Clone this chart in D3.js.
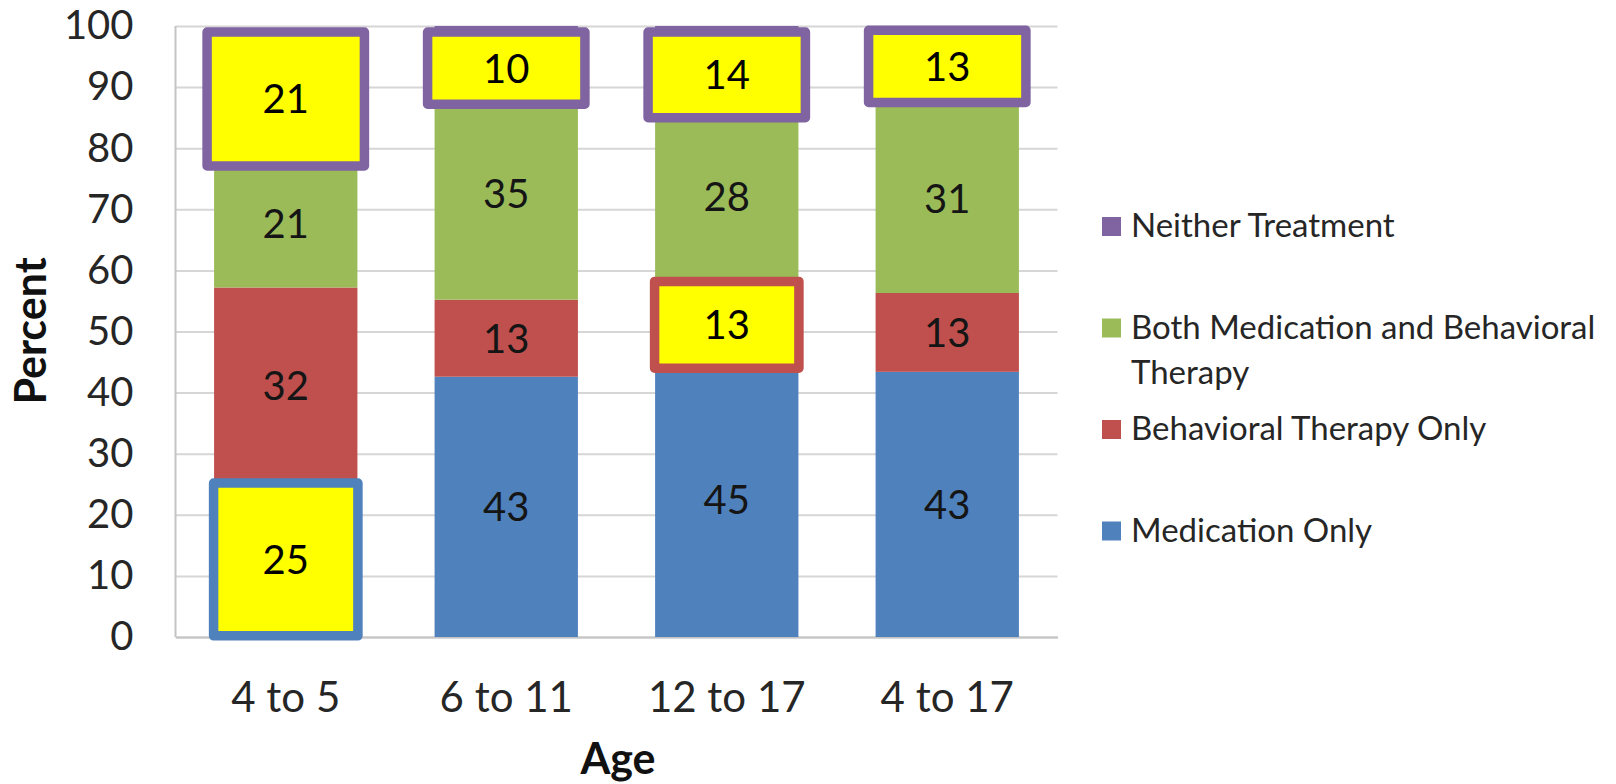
<!DOCTYPE html>
<html>
<head>
<meta charset="utf-8">
<script src="https://cdn.jsdelivr.net/npm/d3@7"></script>
<style>
  body { margin: 0; background: #fff; }
  svg text { font-family: Lato, 'Open Sans', sans-serif; }
</style>
</head>
<body>
<svg width="1616" height="784"></svg>
<script>
// categories and series (stack order: bottom to top)
const ages = ['4 to 5', '6 to 11', '12 to 17', '4 to 17'];
const seriesNames = [
  'Medication Only',
  'Behavioral Therapy Only',
  'Both Medication and Behavioral Therapy',
  'Neither Treatment'
];

// percent values
const medicationOnly = [25, 42.6, 45, 43.4];
const behavioralOnly = [32.2, 12.6, 13, 12.9];
const bothTreatments = [21, 34.8, 28, 31];
const neitherTreatment = [21, 10, 14, 12.7];

const yTicks = [0, 10, 20, 30, 40, 50, 60, 70, 80, 90, 100];

// yellow call-out boxes (lo / hi in percent)
const highlights = [
  { age: '4 to 5', series: 'Neither Treatment', lo: 77.1, hi: 99.0 },
  { age: '4 to 5', series: 'Medication Only', lo: 0.2, hi: 25.2 },
  { age: '6 to 11', series: 'Neither Treatment', lo: 87.2, hi: 99.0 },
  { age: '12 to 17', series: 'Behavioral Therapy Only', lo: 44.0, hi: 58.2 },
  { age: '12 to 17', series: 'Neither Treatment', lo: 85.0, hi: 99.0 },
  { age: '4 to 17', series: 'Neither Treatment', lo: 87.5, hi: 99.3 }
];

const svg = d3.select('svg');
const width = +svg.attr('width');

const plotLeft = 175.5;
const plotRight = 1057.5;
const plotTop = 26;
const plotBottom = 637;

const rows = ages.map((age, i) => ({
  age,
  'Medication Only': medicationOnly[i],
  'Behavioral Therapy Only': behavioralOnly[i],
  'Both Medication and Behavioral Therapy': bothTreatments[i],
  'Neither Treatment': neitherTreatment[i]
}));

const layers = d3.stack().keys(seriesNames)(rows);

const x = d3.scaleBand()
  .domain(ages)
  .range([plotLeft, plotRight])
  .paddingInner(0.35)
  .paddingOuter(0.175);

const y = d3.scaleLinear()
  .domain([0, 100])
  .range([plotBottom, plotTop]);

const color = d3.scaleOrdinal()
  .domain(seriesNames)
  .range(['#4F81BD', '#C0504D', '#9BBB59', '#8064A2']);

const fmt = d3.format('.0f');

// gridlines and y tick labels
const yAxisG = svg.append('g')
    .attr('transform', `translate(${plotLeft},0)`)
    .call(d3.axisLeft(y)
      .tickValues(yTicks)
      .tickSize(-(plotRight - plotLeft))
      .tickPadding(42));
yAxisG.select('.domain').remove();
yAxisG.selectAll('.tick line')
    .attr('stroke', '#d6d6d6')
    .attr('stroke-width', 2);
yAxisG.selectAll('.tick text')
    .attr('font-size', 40)
    .attr('fill', '#262626');

svg.append('line')
    .attr('x1', plotLeft)
    .attr('x2', plotLeft)
    .attr('y1', plotTop)
    .attr('y2', plotBottom)
    .attr('stroke', '#c4c4c4')
    .attr('stroke-width', 2);

// x axis
const xAxisG = svg.append('g')
    .attr('transform', `translate(0,${plotBottom})`)
    .call(d3.axisBottom(x).tickSize(0).tickPadding(45));
xAxisG.select('.domain')
    .attr('stroke', '#c4c4c4')
    .attr('stroke-width', 2);
xAxisG.selectAll('.tick text')
    .attr('font-size', 42)
    .attr('fill', '#262626');

// stacked bars
const layerG = svg.append('g')
  .selectAll('g')
  .data(layers)
  .join('g')
    .attr('fill', d => color(d.key));

layerG.selectAll('rect')
  .data(d => d)
  .join('rect')
    .attr('x', d => x(d.data.age))
    .attr('width', x.bandwidth())
    .attr('y', d => y(d[1]))
    .attr('height', d => y(d[0]) - y(d[1]));

const isHighlighted = (key, age) =>
  highlights.some(h => h.series === key && h.age === age);

// segment labels
layers.forEach(layer => {
  svg.append('g')
    .selectAll('text')
    .data(layer.filter(d => !isHighlighted(layer.key, d.data.age)))
    .join('text')
      .attr('x', d => x(d.data.age) + x.bandwidth() / 2)
      .attr('y', d => (y(d[0]) + y(d[1])) / 2)
      .attr('dy', '0.36em')
      .attr('text-anchor', 'middle')
      .attr('font-size', 40)
      .attr('fill', '#151515')
      .text(d => fmt(d.data[layer.key]));
});

// call-out boxes
const boxPad = key => (key === 'Neither Treatment' ? 7 : 0.5);

const boxG = svg.append('g')
  .selectAll('g')
  .data(highlights)
  .join('g');

boxG.append('rect')
    .attr('x', d => x(d.age) - boxPad(d.series))
    .attr('width', d => x.bandwidth() + 2 * boxPad(d.series))
    .attr('y', d => y(d.hi))
    .attr('height', d => y(d.lo) - y(d.hi))
    .attr('fill', '#FFFF00')
    .attr('stroke', d => color(d.series))
    .attr('stroke-width', 9.5)
    .attr('stroke-linejoin', 'round');

boxG.append('text')
    .attr('x', d => x(d.age) + x.bandwidth() / 2)
    .attr('y', d => (y(d.lo) + y(d.hi)) / 2)
    .attr('dy', '0.36em')
    .attr('text-anchor', 'middle')
    .attr('font-size', 40)
    .attr('fill', '#000')
    .text(d => fmt(rows[ages.indexOf(d.age)][d.series]));

// axis titles
svg.append('text')
    .attr('transform', `translate(46,331) rotate(-90)`)
    .attr('text-anchor', 'middle')
    .attr('font-size', 43)
    .attr('font-weight', 'bold')
    .attr('fill', '#111')
    .text('Percent');

svg.append('text')
    .attr('x', 618)
    .attr('y', 774)
    .attr('text-anchor', 'middle')
    .attr('font-size', 43)
    .attr('font-weight', 'bold')
    .attr('fill', '#111')
    .text('Age');

// legend, top entry is the top of the stack
const legendX = 1102;
const legendTextX = 1131;
const legendTop = 237;
const legendStep = 101.5;
const lineHeight = 45;
const wrapWidth = width - legendTextX - 2;

const legendItems = svg.append('g')
  .selectAll('g')
  .data(seriesNames.slice().reverse())
  .join('g')
    .attr('transform', (d, i) => `translate(0,${legendTop + i * legendStep})`);

legendItems.append('rect')
    .attr('x', legendX)
    .attr('y', -20)
    .attr('width', 19)
    .attr('height', 19)
    .attr('fill', d => color(d));

legendItems.append('text')
    .attr('x', legendTextX)
    .attr('font-size', 33)
    .attr('fill', '#262626')
    .each(function (d) {
      const text = d3.select(this);
      const words = d.split(' ');
      let line = [];
      let lineNo = 0;
      let tspan = text.append('tspan').attr('x', legendTextX).attr('y', 0);
      words.forEach(word => {
        line.push(word);
        tspan.text(line.join(' '));
        if (tspan.node().getComputedTextLength() > wrapWidth && line.length > 1) {
          line.pop();
          tspan.text(line.join(' '));
          line = [word];
          lineNo += 1;
          tspan = text.append('tspan')
              .attr('x', legendTextX)
              .attr('y', lineNo * lineHeight)
              .text(word);
        }
      });
    });
</script>
</body>
</html>
